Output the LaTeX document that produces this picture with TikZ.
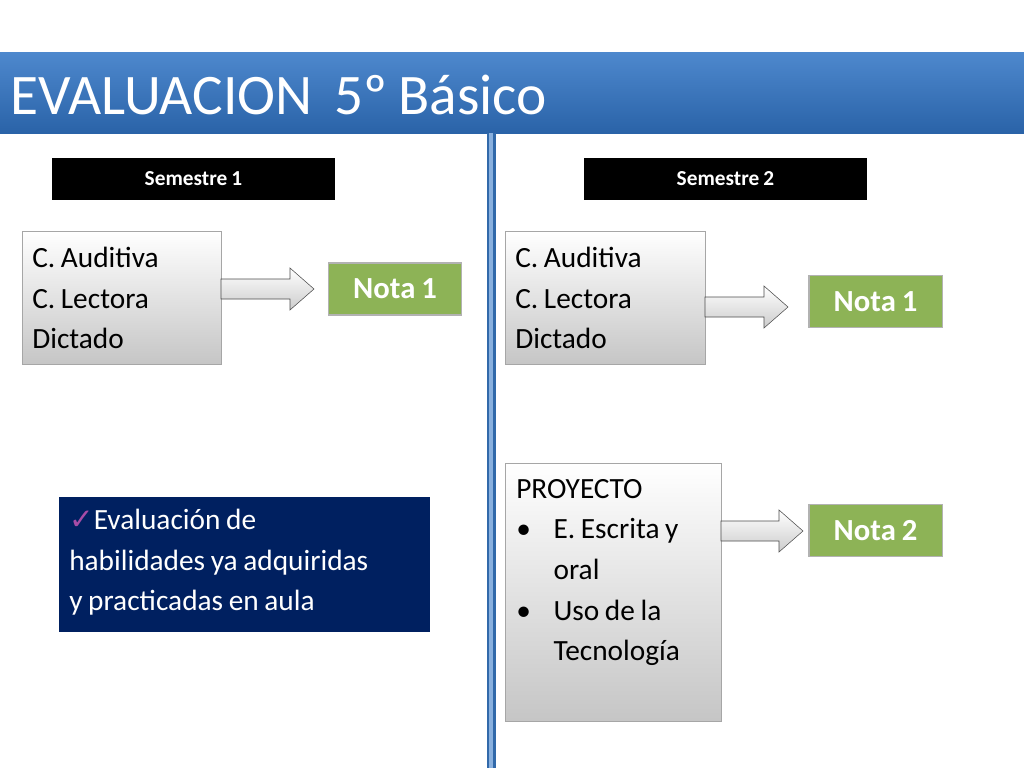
\documentclass[tikz,border=0pt]{standalone}
\usepackage{fontspec}
\setmainfont[WordSpace=0.85]{Carlito}
\newfontfamily\symfont{DejaVu Sans}
\usetikzlibrary{calc}
\definecolor{titleblue}{HTML}{3A7BC8}
\definecolor{titledark}{HTML}{2A63A8}
\definecolor{notagreen}{HTML}{8DB356}
\definecolor{navy}{HTML}{002060}
\frenchspacing
\tikzset{
  graybox/.style={draw=gray!70, top color=white, bottom color=gray!45},
  boxtext/.style={align=left, anchor=north west, inner sep=6pt, font=\fontsize{22}{30.5}\selectfont},
  semestre/.style={fill=black, text=white, font=\fontsize{16}{18}\bfseries\selectfont, minimum width=212pt, minimum height=32pt, inner sep=0pt},
  nota/.style={fill=notagreen, draw=gray!60, line width=1pt, text=white, font=\fontsize{23}{26}\bfseries\selectfont, minimum width=100pt, minimum height=39pt, inner sep=0pt},
  blockarrow/.style={draw=gray!60!black, top color=white, bottom color=gray!40}
}
% block arrow from point #1 with length #2
\newcommand\blockarr[2]{%
  \path[blockarrow] ($#1+(0,-10)$) -- ++(#2-24,0) -- ++(0,-11) -- ($#1+(#2,0)$)
    -- ($#1+(#2-24,21)$) -- ++(0,-11) -- ($#1+(0,10)$) -- cycle;}
\begin{document}
\begin{tikzpicture}[x=0.75pt, y=-0.75pt]
  \useasboundingbox (0,0) rectangle (1024,768);
  % Title
  \fill[top color=titleblue!90!white, bottom color=titledark] (0,52) rectangle (1024,133);
  \node[anchor=west, text=white, font=\fontsize{43}{48}\selectfont, inner sep=0pt] (title) at (10,95) {EVALUACION\ \ 5º Básico};
  % Divider
  \fill[titleblue!85!black] (487,133) rectangle (496,768);
  \fill[titleblue!60!white] (489,133) rectangle (493,768);
  % Semesters
  \node[semestre] (sem1) at (193.5,179) {Semestre 1};
  \node[semestre] (sem2) at (725.5,179) {Semestre 2};
  % Semester 1
  \draw[graybox] (22,231) rectangle (221,364);
  \node[boxtext] (comp1) at (24,239) {C. Auditiva\\C. Lectora\\Dictado};
  \node[nota] (nota11) at (395,289) {Nota 1};
  \blockarr{(221,289)}{93}
  % Semester 2
  \draw[graybox] (505,231) rectangle (705,364);
  \node[boxtext] (comp2) at (507,239) {C. Auditiva\\C. Lectora\\Dictado};
  \node[nota] (nota21) at (875.5,301.5) {Nota 1};
  \blockarr{(705,307)}{83}
  \draw[graybox] (505,463) rectangle (721,721);
  \node[boxtext] (proy) at (508,471) {PROYECTO\\
    \makebox[28pt][l]{•}E. Escrita y\\
    \hspace*{28pt}oral\\
    \makebox[28pt][l]{•}Uso de la\\
    \hspace*{28pt}Tecnología};
  \node[nota] (nota22) at (875.5,530.5) {Nota 2};
  \blockarr{(721,531)}{82}
  % Note
  \draw[fill=navy, draw=navy] (59,497) rectangle (429,631);
  \node[text=white, anchor=north west, align=left, inner sep=6pt, font=\fontsize{22}{30.5}\selectfont] (obs) at (61,501)
    {{\symfont\color{violet!70!white}✓}Evaluación de\\habilidades ya adquiridas\\y practicadas en aula};
\end{tikzpicture}
\end{document}
